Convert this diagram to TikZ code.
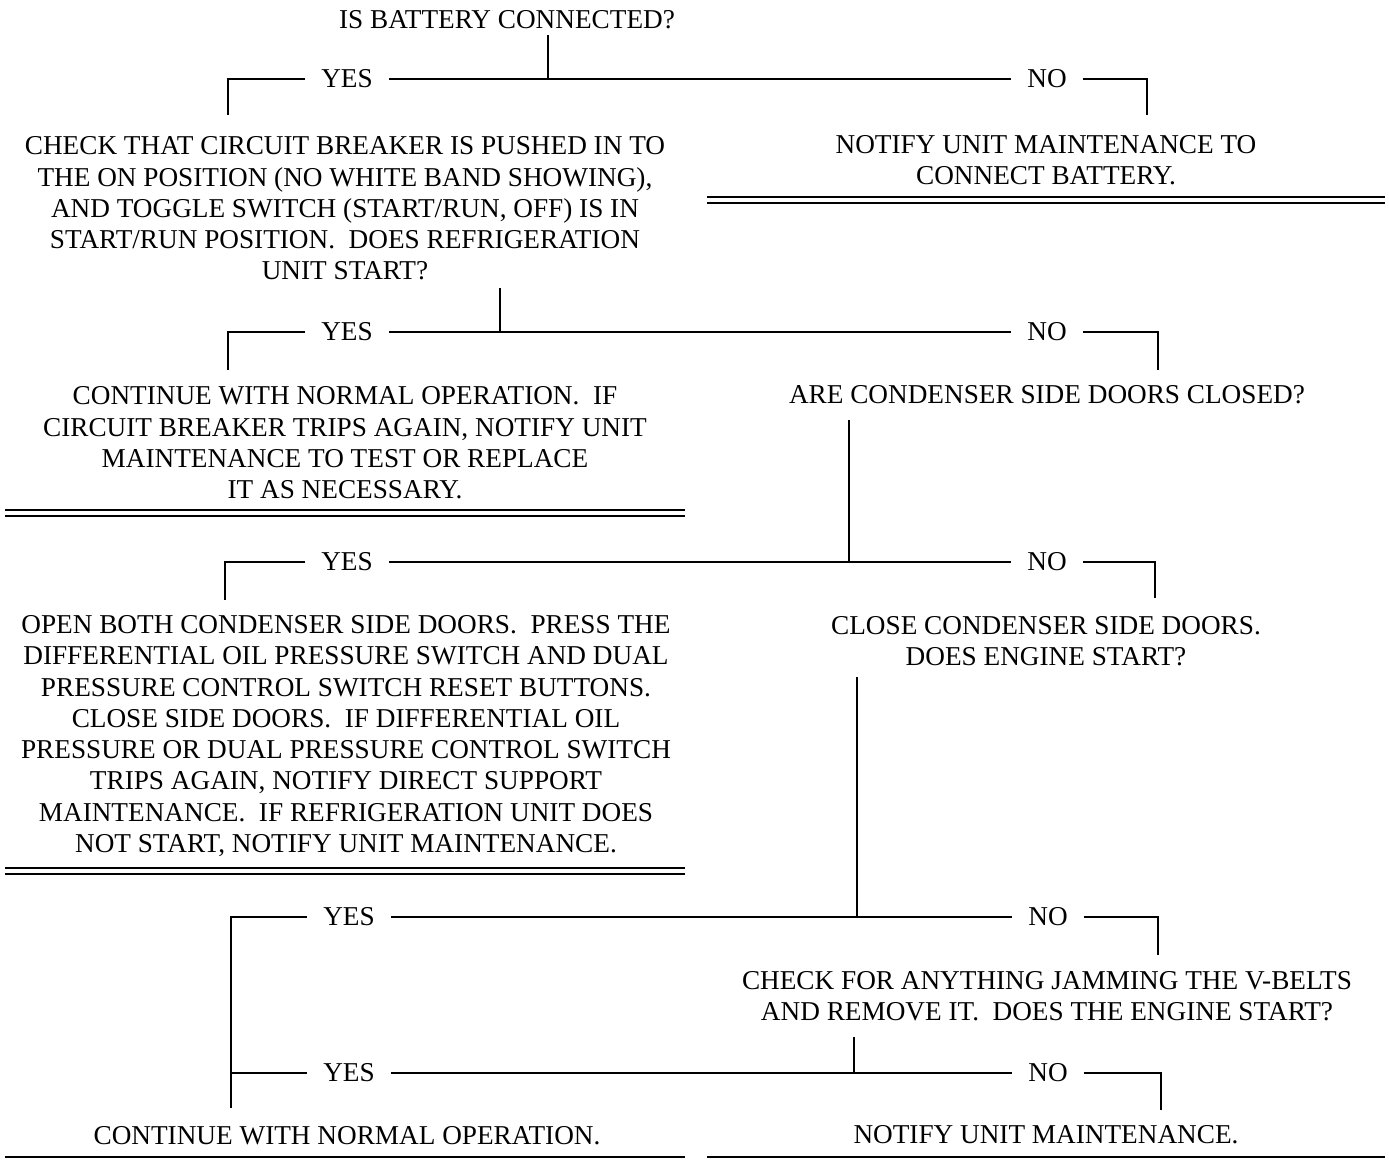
\documentclass[tikz,border=0pt]{standalone}
\usepackage{fontspec}
\setmainfont{Liberation Serif}
\usetikzlibrary{calc}
\tikzset{
  wire/.style={line width=1.4pt},
  txt/.style={font=\fontsize{15.5}{17.8}\selectfont, align=center, inner sep=0pt},
  ans/.style={txt, inner xsep=9pt},
}
\newcommand{\dblrule}[3]{\draw[line width=1.3pt, double, double distance=2.1pt] ( #1 , #3 ) -- ( #2 , #3 );}
\newcommand{\sglrule}[3]{\draw[line width=1.5pt] ( #1 , #3 ) -- ( #2 , #3 );}

\begin{document}
\begin{tikzpicture}[x=0.02cm,y=-0.02cm]
  \useasboundingbox (0,0) rectangle (1389,1160);

  % questions and actions
  \node[txt] (q1) at (507,20) {IS BATTERY CONNECTED?};
  \node[txt] (a1) at (345,208.5) {CHECK THAT CIRCUIT BREAKER IS PUSHED IN TO\\
    THE ON POSITION (NO WHITE BAND SHOWING),\\
    AND TOGGLE SWITCH (START/RUN, OFF) IS IN\\
    START/RUN POSITION.\ \ DOES REFRIGERATION\\
    UNIT START?};
  \node[txt] (n1) at (1046,160) {NOTIFY UNIT MAINTENANCE TO\\CONNECT BATTERY.};
  \node[txt] (a2) at (345,443) {CONTINUE WITH NORMAL OPERATION.\ \ IF\\
    CIRCUIT BREAKER TRIPS AGAIN, NOTIFY UNIT\\
    MAINTENANCE TO TEST OR REPLACE\\
    IT AS NECESSARY.};
  \node[txt] (q3) at (1047,395) {ARE CONDENSER SIDE DOORS CLOSED?};
  \node[txt] (a3) at (346,736) {OPEN BOTH CONDENSER SIDE DOORS.\ \ PRESS THE\\
    DIFFERENTIAL OIL PRESSURE SWITCH AND DUAL\\
    PRESSURE CONTROL SWITCH RESET BUTTONS.\\
    CLOSE SIDE DOORS.\ \ IF DIFFERENTIAL OIL\\
    PRESSURE OR DUAL PRESSURE CONTROL SWITCH\\
    TRIPS AGAIN, NOTIFY DIRECT SUPPORT\\
    MAINTENANCE.\ \ IF REFRIGERATION UNIT DOES\\
    NOT START, NOTIFY UNIT MAINTENANCE.};
  \node[txt] (q4) at (1046,641.5) {CLOSE CONDENSER SIDE DOORS.\\DOES ENGINE START?};
  \node[txt] (q5) at (1047,996.5) {CHECK FOR ANYTHING JAMMING THE V-BELTS\\
    AND REMOVE IT.\ \ DOES THE ENGINE START?};
  \node[txt] (a5) at (347,1136) {CONTINUE WITH NORMAL OPERATION.};
  \node[txt] (n5) at (1046,1135) {NOTIFY UNIT MAINTENANCE.};

  % yes / no labels
  \node[ans] (yes1) at (347,79) {YES};
  \node[ans] (no1) at (1047,79) {NO};
  \node[ans] (yes2) at (347,332) {YES};
  \node[ans] (no2) at (1047,332) {NO};
  \node[ans] (yes3) at (347,562) {YES};
  \node[ans] (no3) at (1047,562) {NO};
  \node[ans] (yes4) at (349,917) {YES};
  \node[ans] (no4) at (1048,917) {NO};
  \node[ans] (yes5) at (349,1073) {YES};
  \node[ans] (no5) at (1048,1073) {NO};

  % stems and bracket ends
  \coordinate (s1) at (548,35);   \coordinate (l1) at (228,115);  \coordinate (r1) at (1147,115);
  \coordinate (s2) at (500,288);  \coordinate (l2) at (228,370);  \coordinate (r2) at (1158,370);
  \coordinate (s3) at (849,420);  \coordinate (l3) at (225,600);  \coordinate (r3) at (1155,598);
  \coordinate (s4) at (857,677);  \coordinate (l4) at (231,1108); \coordinate (r4) at (1158,955);
  \coordinate (s5) at (854,1037); \coordinate (r5) at (1161,1110);

  % branch 1
  \draw[wire] (s1) -- (s1 |- yes1);
  \draw[wire] (yes1.east) -- (no1.west);
  \draw[wire] (yes1.west) -| (l1);
  \draw[wire] (no1.east) -| (r1);
  % branch 2
  \draw[wire] (s2) -- (s2 |- yes2);
  \draw[wire] (yes2.east) -- (no2.west);
  \draw[wire] (yes2.west) -| (l2);
  \draw[wire] (no2.east) -| (r2);
  % branch 3
  \draw[wire] (s3) -- (s3 |- yes3);
  \draw[wire] (yes3.east) -- (no3.west);
  \draw[wire] (yes3.west) -| (l3);
  \draw[wire] (no3.east) -| (r3);
  % branch 4
  \draw[wire] (s4) -- (s4 |- yes4);
  \draw[wire] (yes4.east) -- (no4.west);
  \draw[wire] (yes4.west) -| (l4);
  \draw[wire] (no4.east) -| (r4);
  % branch 5
  \draw[wire] (s5) -- (s5 |- yes5);
  \draw[wire] (yes5.east) -- (no5.west);
  \draw[wire] (yes5.west) -- (yes5.west -| l4);
  \draw[wire] (no5.east) -| (r5);

  % end rules
  \dblrule{707}{1385}{200}
  \dblrule{5}{685}{513}
  \dblrule{5}{685}{871}
  \sglrule{5}{685}{1157}
  \sglrule{707}{1385}{1157}
\end{tikzpicture}
\end{document}
